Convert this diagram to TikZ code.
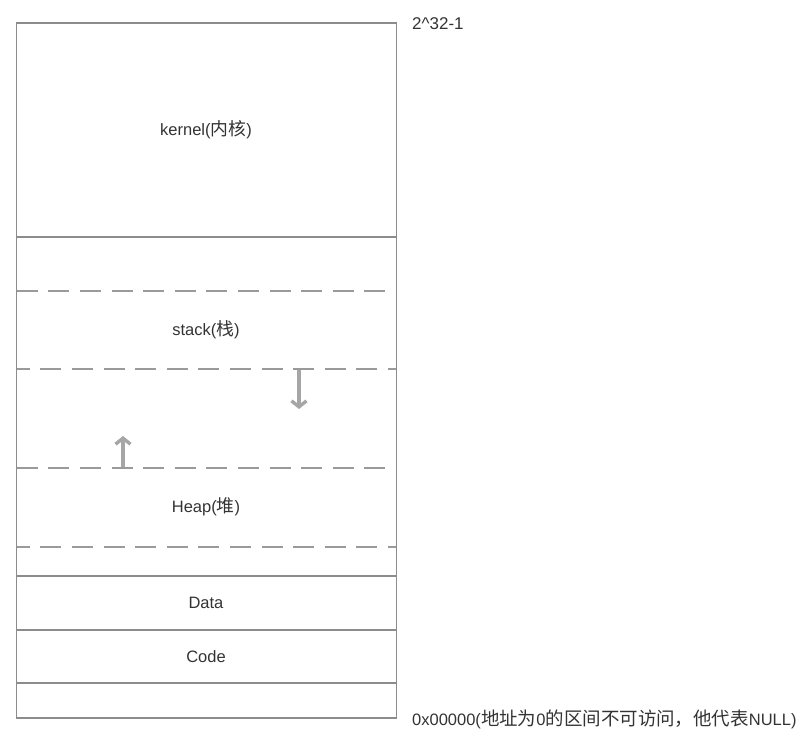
\documentclass[tikz,border=0pt]{standalone}
\usepackage{fontspec}
\setmainfont{Liberation Sans}
\newfontfamily\cjk[Scale=1.08]{Noto Sans CJK SC}
\newfontfamily\cjkwide[Scale=1.12]{Noto Sans CJK SC}
\usetikzlibrary{arrows.meta}
\definecolor{boxline}{HTML}{8C8C8C}
\definecolor{dashline}{HTML}{9A9A9A}
\definecolor{arrowgray}{HTML}{A6A6A6}
\definecolor{txt}{HTML}{333333}
\begin{document}
\begin{tikzpicture}[x=1pt,y=-1pt,
  solidsep/.style={draw=boxline, line width=1.3pt},
  dashsep/.style={draw=dashline, line width=1.3pt, dash pattern=on 21pt off 10.6pt},
  lbl/.style={text=txt, font=\fontsize{16.5}{19}\selectfont, inner sep=0pt},
  growarrow/.style={draw=arrowgray, line width=3.6pt, -{Straight Barb[length=6pt,width=15pt,line width=3.4pt]}}
]
\useasboundingbox (0,0) rectangle (803,742);
% outer box
\draw[solidsep] (16.5,23) rectangle (396.5,718);
% solid separators
\draw[solidsep] (16.5,237) -- (396.5,237);
\draw[solidsep] (16.5,576) -- (396.5,576);
\draw[solidsep] (16.5,630) -- (396.5,630);
\draw[solidsep] (16.5,683) -- (396.5,683);
% dashed separators
\draw[dashsep] (16.7,291) -- (392,291);
\draw[dashsep, dash phase=8pt] (16.7,369) -- (396,369);
\draw[dashsep] (16.7,468) -- (392,468);
\draw[dashsep, dash phase=8pt] (16.7,547) -- (396,547);
% labels
\node[lbl] (kernel) at (206,130) {kernel({\cjk 内核})};
\node[lbl] (stack) at (206,330) {stack({\cjk 栈})};
\node[lbl] (heap) at (206,507) {Heap({\cjk 堆})};
\node[lbl] (data) at (206,603) {Data};
\node[lbl] (code) at (206,657) {Code};
\node[lbl, anchor=west, font=\fontsize{17}{19}\selectfont] (top) at (412,24) {2\^{}32-1};
\node[lbl, anchor=west] (bottom) at (412,719) {0x00000({\cjkwide 地址为}0{\cjkwide 的区间不可访问，他代表}NULL)};
% growth arrows
\coordinate (sA) at (299,370);
\coordinate (sB) at (299,409);
\coordinate (hA) at (123,467);
\coordinate (hB) at (123,436);
\draw[growarrow] (sA) -- (sB);
\draw[growarrow] (hA) -- (hB);
\end{tikzpicture}
\end{document}
